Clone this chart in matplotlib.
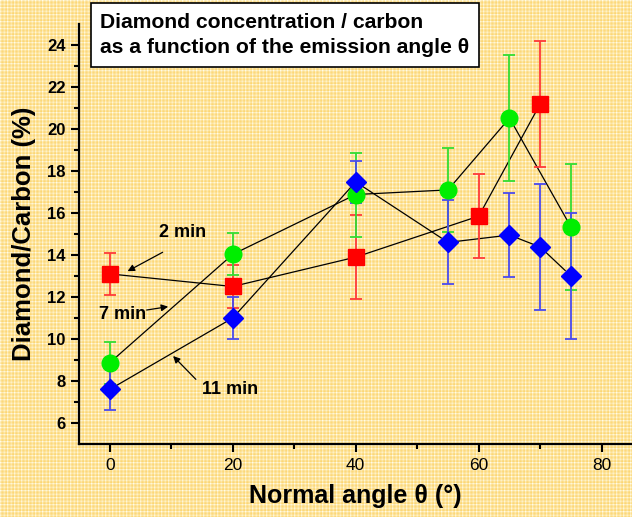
import numpy as np
import matplotlib.pyplot as plt

plt.rcParams['font.family'] = ['Liberation Sans', 'DejaVu Sans']

# Emission angle (deg), diamond/carbon ratio (%) and error per deposition time
angle_2min = [0, 20, 40, 60, 70]
ratio_2min = [13.1, 12.5, 13.9, 15.85, 21.2]
err_2min = [1.0, 1.0, 2.0, 2.0, 3.0]

angle_7min = [0, 20, 40, 55, 65, 75]
ratio_7min = [8.87, 14.03, 16.88, 17.1, 20.52, 15.33]
err_7min = [1.0, 1.0, 2.0, 2.0, 3.0, 3.0]

angle_11min = [0, 20, 40, 55, 65, 70, 75]
ratio_11min = [7.6, 11.0, 17.48, 14.6, 14.95, 14.38, 13.0]
err_11min = [1.0, 1.0, 1.0, 2.0, 2.0, 3.0, 3.0]

W, H, DPI = 632, 517, 100
fig = plt.figure(figsize=(W / DPI, H / DPI), dpi=DPI)

# plaid paper background
period = 7
prof = np.array([1.0, 0.45, 0.2, 0.45, 0.75, 0.3, 0.15])
rows = prof[np.arange(H) % period]
cols = prof[np.arange(W) % period]
mix = 0.5 * (rows[:, None] + cols[None, :])
orange = np.array([252, 208, 96]) / 255
white = np.array([255, 252, 232]) / 255
bg = orange + (white - orange) * mix[:, :, None]
fig.figimage(bg, 0, 0, zorder=-10)

ax = fig.add_axes([79 / W, 73 / H, 553.5 / W, 420 / H])
ax.set_zorder(1)
ax.set_facecolor('none')
ax.set_xlim(-5, 85)
ax.set_ylim(5, 25)
for s in ('top', 'right'):
    ax.spines[s].set_visible(False)
for s in ('left', 'bottom'):
    ax.spines[s].set_linewidth(1.6)

ax.set_xticks([0, 20, 40, 60, 80])
ax.set_xticks([10, 30, 50, 70], minor=True)
ax.set_yticks(np.arange(6, 25, 2))
ax.set_yticks(np.arange(7, 25, 2), minor=True)
ax.tick_params(which='major', length=6, width=1.5, direction='out')
ax.tick_params(which='minor', length=3.5, width=1.5, direction='out')
ax.tick_params(axis='x', labelsize=12.5, pad=4)
ax.tick_params(axis='y', labelsize=12)
for lab in ax.get_yticklabels():
    lab.set_fontweight('bold')

ax.set_xlabel('Normal angle θ (°)', fontsize=18, fontweight='bold', labelpad=8)
ax.set_ylabel('Diamond/Carbon (%)', fontsize=18.5, fontweight='bold', labelpad=8)

series = [
    (angle_2min, ratio_2min, err_2min, 's', '#ff0000', '#ff3a3a', 11),
    (angle_7min, ratio_7min, err_7min, 'o', '#00ee00', '#33dd33', 12),
    (angle_11min, ratio_11min, err_11min, 'D', '#0000ff', '#4a4aee', 10),
]

fig.canvas.draw()
to_px = ax.transData
to_data = ax.transData.inverted()
gap = 8  # pixels left open around each marker

for x, y, e, mk, mc, ec, ms in series:
    pts = to_px.transform(np.column_stack([x, y]))
    for p0, p1 in zip(pts[:-1], pts[1:]):
        d = p1 - p0
        u = d / np.hypot(*d)
        seg = to_data.transform([p0 + u * gap, p1 - u * gap])
        ax.plot(seg[:, 0], seg[:, 1], color='black', lw=0.9, zorder=3)
    ax.errorbar(x, y, yerr=e, fmt='none', ecolor=ec, elinewidth=1.3,
                capsize=4.5, capthick=1.3, zorder=4)
    ax.plot(x, y, linestyle='none', marker=mk, ms=ms, color=mc,
            markeredgecolor=mc, zorder=5)

arrow = dict(arrowstyle='-|>', color='black', lw=0.9, mutation_scale=10,
             shrinkA=0, shrinkB=0)
ax.annotate('', xy=(2.9, 13.23), xytext=(8.6, 14.13), arrowprops=arrow, zorder=6)
ax.text(11.9, 15.08, '2 min', fontsize=13, fontweight='bold', ha='center', va='center')
ax.annotate('', xy=(9.5, 11.54), xytext=(6.0, 11.38), arrowprops=arrow, zorder=6)
ax.text(2.1, 11.18, '7 min', fontsize=13, fontweight='bold', ha='center', va='center')
ax.annotate('', xy=(10.3, 9.19), xytext=(14.0, 8.08), arrowprops=arrow, zorder=6)
ax.text(19.5, 7.61, '11 min', fontsize=13, fontweight='bold', ha='center', va='center')

fig.text(100 / W, 1 - 35 / H,
         'Diamond concentration / carbon\nas a function of the emission angle θ',
         fontsize=15.2, fontweight='bold', ha='left', va='center', linespacing=1.45,
         zorder=7,
         bbox=dict(boxstyle='square,pad=0.45', facecolor='white', edgecolor='black', lw=1.2))

fig.savefig('out.png', dpi=DPI)
